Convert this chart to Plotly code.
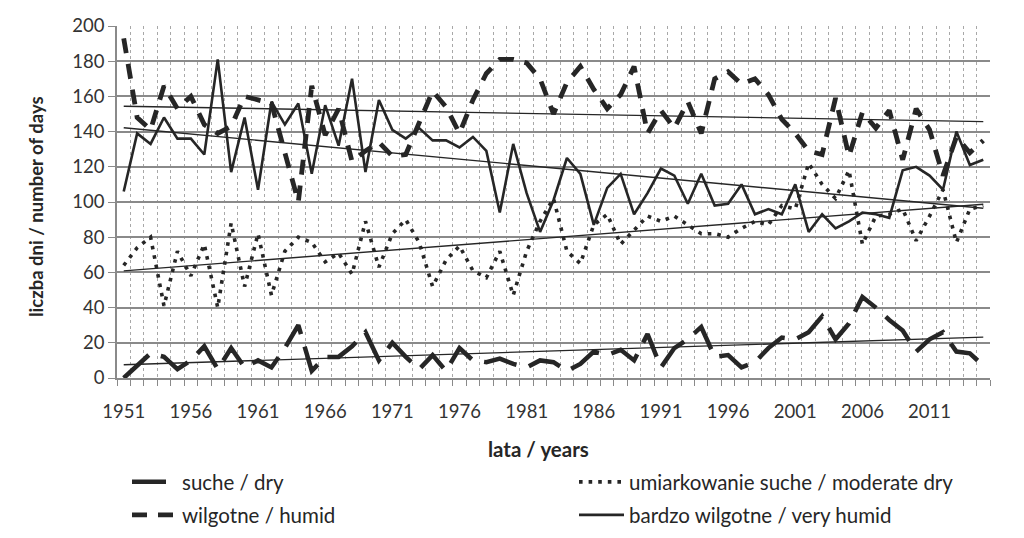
import numpy as np
import plotly.graph_objects as go

years = list(range(1951, 2016))
tick_years = [1951, 1956, 1961, 1966, 1971, 1976, 1981, 1986, 1991, 1996, 2001, 2006, 2011]

dry = [0, 7, 14, 12, 5, 10, 18, 5, 17, 6,
       10, 6, 17, 30, 4, 12, 12, 18, 26, 10,
       20, 12, 5, 13, 4, 17, 10, 9, 11, 8,
       6, 10, 9, 4, 8, 15, 13, 16, 10, 25,
       6, 17, 22, 29, 12, 13, 6, 9, 17, 23,
       22, 26, 35, 22, 31, 46, 40, 33, 27, 15,
       22, 26, 15, 14, 7]

moderate_dry = [64, 74, 80, 41, 72, 58, 76, 40, 88, 52,
                82, 47, 72, 80, 77, 66, 71, 59, 89, 63,
                82, 90, 77, 52, 67, 75, 61, 57, 72, 47,
                72, 89, 102, 72, 65, 87, 93, 76, 84, 92,
                89, 92, 87, 82, 82, 80, 85, 89, 87, 98,
                96, 122, 110, 102, 118, 76, 92, 93, 96, 78,
                92, 107, 77, 96, 98]

humid = [193, 148, 141, 166, 153, 160, 144, 139, 143, 160,
         158, 156, 128, 100, 166, 138, 153, 123, 129, 134,
         126, 127, 145, 163, 154, 139, 158, 173, 181, 181,
         179, 170, 150, 168, 177, 164, 153, 161, 177, 139,
         152, 142, 157, 139, 170, 174, 167, 170, 161, 147,
         139, 129, 127, 159, 126, 151, 142, 152, 124, 153,
         141, 115, 137, 128, 135]

very_humid = [106, 139, 133, 148, 136, 136, 127, 181, 117, 148,
              107, 157, 144, 156, 116, 155, 132, 170, 117, 158,
              141, 136, 142, 135, 135, 131, 137, 129, 94, 133,
              105, 83, 101, 125, 116, 87, 108, 116, 93, 105,
              119, 115, 99, 116, 98, 99, 110, 93, 96, 93,
              110, 83, 93, 85, 89, 94, 93, 91, 118, 120,
              115, 107, 140, 121, 124]

series_names = ["suche / dry", "umiarkowanie suche / moderate dry",
                "wilgotne / humid", "bardzo wilgotne / very humid"]

FONT = "Lato, 'Open Sans', sans-serif"
INK = "#262626"

fig = go.Figure()

specs = [
    (dry, series_names[0], dict(width=4.5, dash="34px,13px"), "legend"),
    (moderate_dry, series_names[1], dict(width=3.6, dash="3.6px,6px"), "legend2"),
    (humid, series_names[2], dict(width=4.8, dash="15px,11px"), "legend3"),
    (very_humid, series_names[3], dict(width=2.6), "legend4"),
]

for vals, name, line, lg in specs:
    fig.add_trace(go.Scatter(x=years, y=vals, name=name, mode="lines",
                             line=dict(color=INK, **line), legend=lg))

# linear trend lines (least squares fit of each series)
for vals, name, line, lg in specs:
    a, b = np.polyfit(years, vals, 1)
    xs = [years[0], years[-1]]
    fig.add_trace(go.Scatter(x=xs, y=[a * x + b for x in xs], mode="lines",
                             line=dict(color=INK, width=1.4), showlegend=False,
                             hoverinfo="skip"))

# page body has an 8px default margin: size the figure so it fits the window
OFF = 8
W, H = 1024 - OFF, 538 - 2 * OFF
L, T = 117 - OFF, 26 - OFF
R = W - (990 - OFF)
B = H - (378 - OFF)
pw, ph = W - L - R, H - T - B

def px_x(p):
    return (p - OFF - L) / pw

def px_y(p):
    return (H - B - (p - OFF)) / ph

def cx(p):
    return (p - OFF) / W

def cy(p):
    return (H - (p - OFF)) / H

legend_common = dict(orientation="h", xref="container", yref="container",
                     xanchor="left", yanchor="middle", itemwidth=45,
                     font=dict(size=20.5), bgcolor="rgba(0,0,0,0)")

fig.update_layout(
    width=W, height=H, autosize=False,
    margin=dict(l=L, r=R, t=T, b=B, autoexpand=False),
    paper_bgcolor="white", plot_bgcolor="white",
    font=dict(family=FONT, size=17, color=INK),
    xaxis=dict(
        range=[1950.5, 2015.5], tickmode="array", tickvals=tick_years,
        ticktext=[str(y) for y in tick_years], ticks="", showgrid=False,
        showline=True, linecolor="#8a8a8a", linewidth=1.5,
        tickfont=dict(size=18.5, color="#333"), ticklabelstandoff=16,
        zeroline=False, automargin=False,
        minor=dict(tick0=1950.5, dtick=1, ticks="outside", ticklen=6,
                   tickcolor="#8a8a8a", tickwidth=1, showgrid=True,
                   gridcolor="#a8a8a8", griddash="dot", gridwidth=1),
    ),
    yaxis=dict(
        range=[0, 200], tick0=0, dtick=20, ticks="outside", ticklen=7,
        tickcolor="#8a8a8a", showgrid=True, gridcolor="#8a8a8a", gridwidth=1.5,
        showline=True, linecolor="#8a8a8a", linewidth=1.5, zeroline=False,
        tickfont=dict(size=18.5, color="#333"), automargin=False,
    ),
    legend=dict(x=cx(127), y=cy(482), **legend_common),
    legend2=dict(x=cx(574), y=cy(482), **legend_common),
    legend3=dict(x=cx(127), y=cy(515), **legend_common),
    legend4=dict(x=cx(574), y=cy(515), **legend_common),
    showlegend=True,
)

fig.add_annotation(text="<b>liczba dni / number of days</b>", xref="paper", yref="paper",
                   x=px_x(36), y=px_y(207), textangle=-90, showarrow=False,
                   xanchor="center", yanchor="middle", font=dict(size=18.5, color=INK))
fig.add_annotation(text="<b>lata / years</b>", xref="paper", yref="paper",
                   x=px_x(538), y=px_y(449), showarrow=False,
                   xanchor="center", yanchor="middle", font=dict(size=20.5, color=INK))

fig.write_html("out.html")
